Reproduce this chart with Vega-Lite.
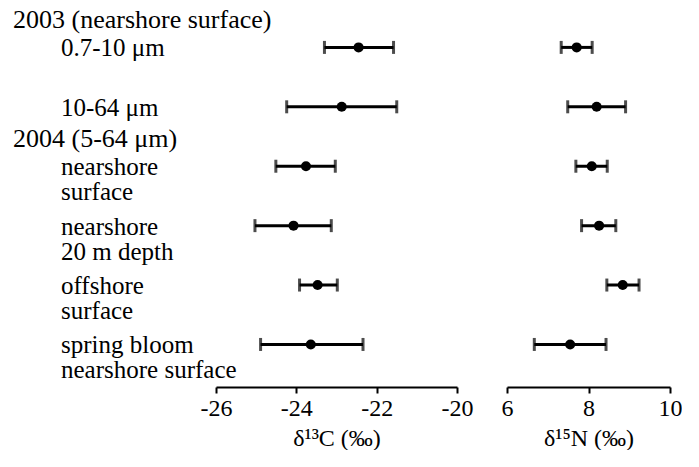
{
  "$schema": "https://vega.github.io/schema/vega-lite/v6.json",
  "padding": 0,
  "background": "white",
  "datasets": {
    "rows": [
      {"id": "r1", "label": "0.7-10 μm", "c_lo": -23.30, "c_mid": -22.45, "c_hi": -21.58, "n_lo": 7.33, "n_mid": 7.71, "n_hi": 8.09},
      {"id": "r2", "label": "10-64 μm", "c_lo": -24.24, "c_mid": -22.87, "c_hi": -21.50, "n_lo": 7.49, "n_mid": 8.20, "n_hi": 8.91},
      {"id": "r3", "label": "nearshore\nsurface", "c_lo": -24.51, "c_mid": -23.76, "c_hi": -23.03, "n_lo": 7.69, "n_mid": 8.08, "n_hi": 8.46},
      {"id": "r4", "label": "nearshore\n20 m depth", "c_lo": -25.03, "c_mid": -24.07, "c_hi": -23.13, "n_lo": 7.83, "n_mid": 8.26, "n_hi": 8.67},
      {"id": "r5", "label": "offshore\nsurface", "c_lo": -23.92, "c_mid": -23.47, "c_hi": -22.98, "n_lo": 8.45, "n_mid": 8.84, "n_hi": 9.24},
      {"id": "r6", "label": "spring bloom\nnearshore surface", "c_lo": -24.89, "c_mid": -23.64, "c_hi": -22.34, "n_lo": 6.67, "n_mid": 7.55, "n_hi": 8.43}
    ],
    "headers": [
      {"id": "r1", "header": "2003 (nearshore surface)"},
      {"id": "r3", "header": "2004 (5-64 μm)"}
    ]
  },
  "bounds": "flush",
  "spacing": 50,
  "hconcat": [
    {
      "width": 166,
      "height": 387,
      "layer": [
        {
          "data": {"name": "rows"},
          "mark": {"type": "text", "align": "left", "baseline": "middle", "dx": -22, "dy": 1, "font": "Liberation Serif, Times New Roman, Times, serif", "fontSize": 25, "lineBreak": "\n", "lineHeight": 25, "color": "black"},
          "encoding": {
            "y": {"field": "id", "type": "ordinal", "scale": {"type": "point", "domain": ["r1", "r2", "r3", "r4", "r5", "r6"], "padding": 0.757, "align": 0.527}, "axis": null},
            "text": {"field": "label", "type": "nominal"}
          }
        },
        {
          "data": {"name": "headers"},
          "mark": {"type": "text", "align": "left", "baseline": "middle", "dx": -70, "dy": -27, "font": "Liberation Serif, Times New Roman, Times, serif", "fontSize": 26, "color": "black"},
          "encoding": {
            "y": {"field": "id", "type": "ordinal", "scale": {"type": "point", "domain": ["r1", "r2", "r3", "r4", "r5", "r6"], "padding": 0.757, "align": 0.527}, "axis": null},
            "text": {"field": "header", "type": "nominal"}
          }
        }
      ]
    },
    {
      "width": 241,
      "height": 387,
      "data": {"name": "rows"},
      "encoding": {
        "y": {"field": "id", "type": "ordinal", "scale": {"type": "point", "domain": ["r1", "r2", "r3", "r4", "r5", "r6"], "padding": 0.757, "align": 0.527}, "axis": null}
      },
      "layer": [
        {
          "mark": {"type": "rule", "strokeWidth": 3, "color": "black"},
          "encoding": {
            "x": {"field": "c_lo", "type": "quantitative", "scale": {"domain": [-26, -20], "nice": false, "zero": false}, "axis": {"values": [-26, -24, -22, -20], "labelExpr": "'' + datum.value", "title": "δ¹³C (‰)"}},
            "x2": {"field": "c_hi"}
          }
        },
        {
          "mark": {"type": "tick", "thickness": 3, "size": 13, "color": "black"},
          "encoding": {"x": {"field": "c_lo", "type": "quantitative"}}
        },
        {
          "mark": {"type": "tick", "thickness": 3, "size": 13, "color": "black"},
          "encoding": {"x": {"field": "c_hi", "type": "quantitative"}}
        },
        {
          "mark": {"type": "point", "filled": true, "size": 100, "color": "black", "opacity": 1},
          "encoding": {"x": {"field": "c_mid", "type": "quantitative"}}
        }
      ]
    },
    {
      "width": 163,
      "height": 387,
      "data": {"name": "rows"},
      "encoding": {
        "y": {"field": "id", "type": "ordinal", "scale": {"type": "point", "domain": ["r1", "r2", "r3", "r4", "r5", "r6"], "padding": 0.757, "align": 0.527}, "axis": null}
      },
      "layer": [
        {
          "mark": {"type": "rule", "strokeWidth": 3, "color": "black"},
          "encoding": {
            "x": {"field": "n_lo", "type": "quantitative", "scale": {"domain": [6, 10], "nice": false, "zero": false}, "axis": {"values": [6, 8, 10], "labelExpr": "'' + datum.value", "title": "δ¹⁵N (‰)"}},
            "x2": {"field": "n_hi"}
          }
        },
        {
          "mark": {"type": "tick", "thickness": 3, "size": 13, "color": "black"},
          "encoding": {"x": {"field": "n_lo", "type": "quantitative"}}
        },
        {
          "mark": {"type": "tick", "thickness": 3, "size": 13, "color": "black"},
          "encoding": {"x": {"field": "n_hi", "type": "quantitative"}}
        },
        {
          "mark": {"type": "point", "filled": true, "size": 100, "color": "black", "opacity": 1},
          "encoding": {"x": {"field": "n_mid", "type": "quantitative"}}
        }
      ]
    }
  ],
  "config": {
    "view": {"stroke": null},
    "font": "Liberation Serif, Times New Roman, Times, serif",
    "axis": {
      "grid": false,
      "domainColor": "black",
      "domainWidth": 2,
      "tickColor": "black",
      "tickWidth": 2,
      "tickSize": 6,
      "labelFont": "Liberation Serif, Times New Roman, Times, serif",
      "labelFontSize": 24,
      "labelColor": "black",
      "labelPadding": 3,
      "labelFlush": false,
      "titleFont": "Liberation Serif, Times New Roman, Times, serif",
      "titleFontSize": 24,
      "titleFontWeight": "normal",
      "titleColor": "black",
      "titlePadding": 6
    }
  }
}
